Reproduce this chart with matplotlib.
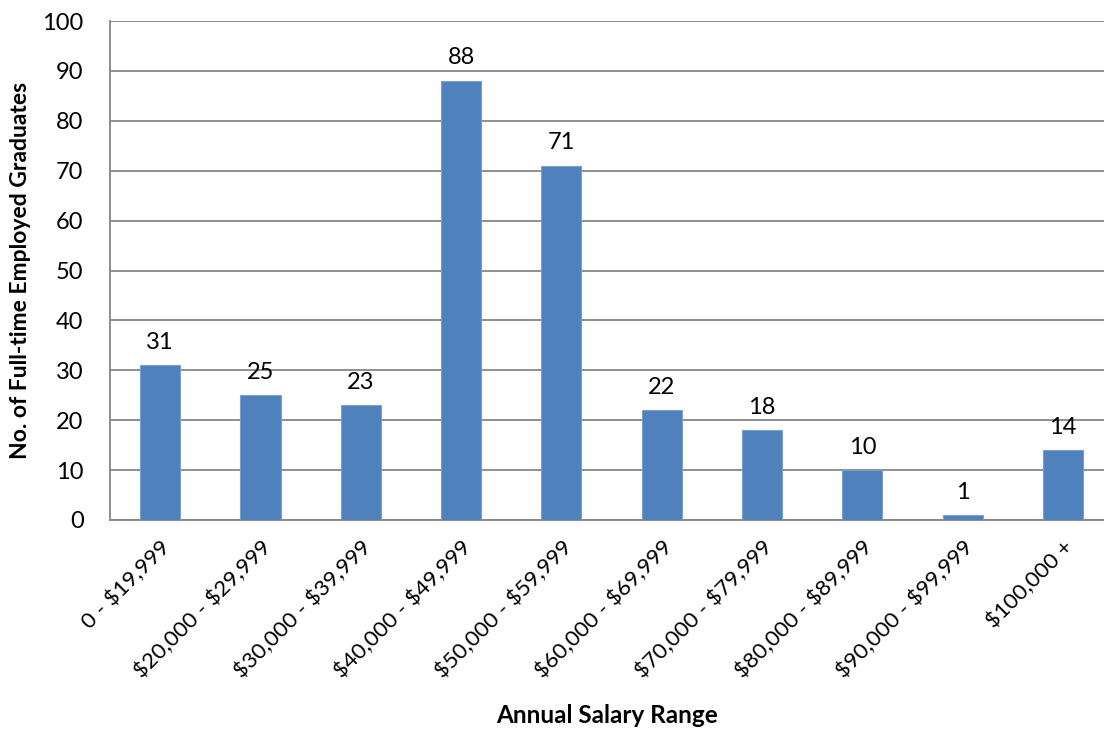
import numpy as np
import matplotlib
matplotlib.use("Agg")
from matplotlib import pyplot as plt

plt.rcParams['font.family'] = ['Lato', 'DejaVu Sans']

ranges = ["0 - $19,999", "$20,000 - $29,999", "$30,000 - $39,999", "$40,000 - $49,999",
          "$50,000 - $59,999", "$60,000 - $69,999", "$70,000 - $79,999", "$80,000 - $89,999",
          "$90,000 - $99,999", "$100,000 +"]
graduates = [31, 25, 23, 88, 71, 22, 18, 10, 1, 14]

fig = plt.figure(figsize=(11.04, 7.38), dpi=100)
ax = fig.add_axes([110 / 1104, 1 - 520 / 738, 994 / 1104, 499 / 738])

x = np.arange(len(ranges))
ax.bar(x, graduates, width=0.4, color='#4F81BD', edgecolor='#7BA0CD', linewidth=0.8, zorder=3)
for xi, v in zip(x, graduates):
    ax.annotate(str(v), (xi, v), xytext=(0, 9), textcoords='offset points',
                ha='center', va='bottom', fontsize=17)

ax.set_xlim(-0.5, 9.41)
ax.set_ylim(0, 100)
ax.set_yticks(range(0, 101, 10))
ax.set_xticks(x)
ax.set_xticklabels(ranges, rotation=45, ha='right', rotation_mode='anchor', fontsize=16,
                   parse_math=False)
ax.tick_params(axis='y', labelsize=17, length=0, pad=19)
ax.tick_params(axis='x', length=0, pad=12)
ax.grid(axis='y', color='#868686', linewidth=1.3, zorder=0)
for s in ['top', 'right']:
    ax.spines[s].set_visible(False)
for s in ['left', 'bottom']:
    ax.spines[s].set_color('#868686')
    ax.spines[s].set_linewidth(1.3)

ax.set_ylabel("No. of Full-time Employed Graduates", fontsize=16.5, fontweight='bold', labelpad=8)
ax.set_xlabel("Annual Salary Range", fontsize=17.5, fontweight='bold', labelpad=16)

fig.savefig("out.png", dpi=100)
